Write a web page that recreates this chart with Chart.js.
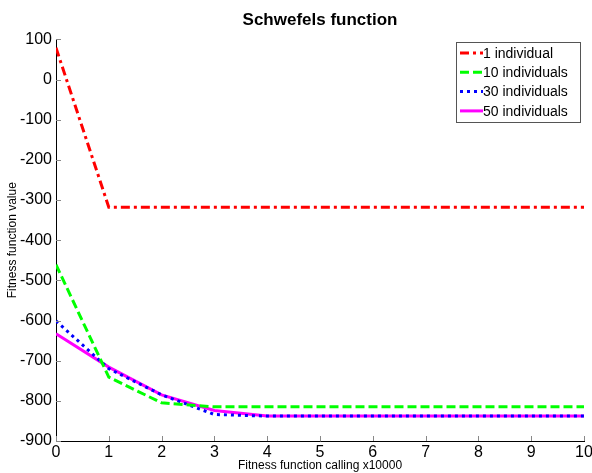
<!DOCTYPE html>
<html>
<head>
<meta charset="utf-8">
<script src="https://cdn.jsdelivr.net/npm/chart.js@4.4.1/dist/chart.umd.min.js"></script>
<style>
  html, body { margin: 0; padding: 0; background: #fff; }
  #wrap { width: 592px; height: 473px; }
</style>
</head>
<body>
<div id="wrap"><canvas id="myChart" width="592" height="473"></canvas></div>
<script>
// calls of the fitness function (x10000)
let calls = [0, 1, 2, 3, 4, 5, 6, 7, 8, 9, 10];

// best fitness value reached, per population size
let one = [79, -318, -318, -318, -318, -318, -318, -318, -318, -318, -318];
let ten = [-461, -741, -805, -815, -815, -815, -815, -815, -815, -815, -815];
let thirty = [-601, -720, -785, -834, -838, -838, -838, -838, -838, -838, -838];
let fifty = [-633, -716, -785, -824, -838, -838, -838, -838, -838, -838, -838];

let labels = ["1 individual", "10 individuals", "30 individuals", "50 individuals"];
let colors = ["#ff0000", "#00ff00", "#0000ff", "#ff00ff"];
let dashes = [[9, 4, 3, 4], [9, 4], [3, 4], []];

let series = [one, ten, thirty, fifty];

function toPoints(arr) {
  return arr.map((v, i) => ({ x: calls[i], y: v }));
}

let datasets = series.map((s, i) => ({
  label: labels[i],
  data: toPoints(s),
  borderColor: colors[i],
  backgroundColor: colors[i],
  borderWidth: 3,
  borderDash: dashes[i],
  pointRadius: 0,
  tension: 0,
  fill: false,
}));

// small ticks pointing into the plot, like matlab does
const innerTicks = {
  id: "innerTicks",
  afterDraw(chart) {
    let ctx = chart.ctx;
    let a = chart.chartArea;
    let xs = chart.scales.x, ys = chart.scales.y;
    ctx.save();
    ctx.strokeStyle = "#888";
    ctx.lineWidth = 1;
    ctx.beginPath();
    xs.ticks.forEach((t, i) => {
      let px = Math.round(xs.getPixelForTick(i)) + 0.5;
      ctx.moveTo(px, a.bottom);
      ctx.lineTo(px, a.bottom - 5);
    });
    ys.ticks.forEach((t, i) => {
      let py = Math.round(ys.getPixelForTick(i)) + 0.5;
      ctx.moveTo(a.left, py);
      ctx.lineTo(a.left + 5, py);
    });
    ctx.stroke();
    ctx.restore();
  },
};

// boxed legend in the top right corner
const boxLegend = {
  id: "boxLegend",
  afterDraw(chart) {
    let ctx = chart.ctx;
    let x0 = 456.5, y0 = 42.5, w = 124, h = 80;
    ctx.save();
    ctx.fillStyle = "#fff";
    ctx.fillRect(x0, y0, w, h);
    ctx.strokeStyle = "#555";
    ctx.lineWidth = 1;
    ctx.strokeRect(x0, y0, w, h);
    ctx.font = "14px 'Liberation Sans', Arial, sans-serif";
    ctx.textBaseline = "middle";
    chart.data.datasets.forEach((ds, i) => {
      let yy = 53 + i * 19.3;
      ctx.beginPath();
      ctx.strokeStyle = ds.borderColor;
      ctx.lineWidth = 3;
      ctx.setLineDash(ds.borderDash);
      ctx.moveTo(460, yy);
      ctx.lineTo(483, yy);
      ctx.stroke();
      ctx.setLineDash([]);
      ctx.fillStyle = "#000";
      ctx.fillText(ds.label, 483, yy + 1);
    });
    ctx.restore();
  },
};

let ctx = document.getElementById("myChart").getContext("2d");
let myChart = new Chart(ctx, {
  type: "line",
  data: { datasets: datasets },
  options: {
    responsive: false,
    animation: false,
    layout: { padding: { left: 0, right: 0, top: 0, bottom: 0 } },
    plugins: {
      legend: { display: false },
      tooltip: { enabled: false },
      title: {
        display: true,
        fullSize: false,
        text: "Schwefels function",
        color: "#000",
        font: { family: "'Liberation Sans', Arial, sans-serif", size: 17, weight: "bold" },
        padding: { top: 10, bottom: 9 },
      },
    },
    scales: {
      x: {
        type: "linear",
        min: 0,
        max: 10,
        ticks: {
          stepSize: 1,
          color: "#000",
          padding: 2,
          font: { family: "'Liberation Sans', Arial, sans-serif", size: 16 },
        },
        grid: { display: true, drawOnChartArea: false, drawTicks: false },
        border: { display: true, color: "#000", width: 1 },
        title: {
          display: true,
          text: "Fitness function calling x10000",
          color: "#000",
          padding: 0,
          font: { family: "'Liberation Sans', Arial, sans-serif", size: 12 },
        },
        afterFit(scale) {
          scale.height = 32;
          scale.paddingRight = 8;
        },
      },
      y: {
        min: -900,
        max: 100,
        ticks: {
          stepSize: 100,
          color: "#000",
          padding: 4,
          font: { family: "'Liberation Sans', Arial, sans-serif", size: 16 },
        },
        grid: { display: true, drawOnChartArea: false, drawTicks: false },
        border: { display: true, color: "#000", width: 1 },
        title: {
          display: true,
          text: "Fitness function value",
          color: "#000",
          padding: { top: 5, bottom: 0 },
          font: { family: "'Liberation Sans', Arial, sans-serif", size: 12 },
        },
        afterFit(scale) { scale.width = 56; },
      },
    },
  },
  plugins: [innerTicks, boxLegend],
});
</script>
</body>
</html>
